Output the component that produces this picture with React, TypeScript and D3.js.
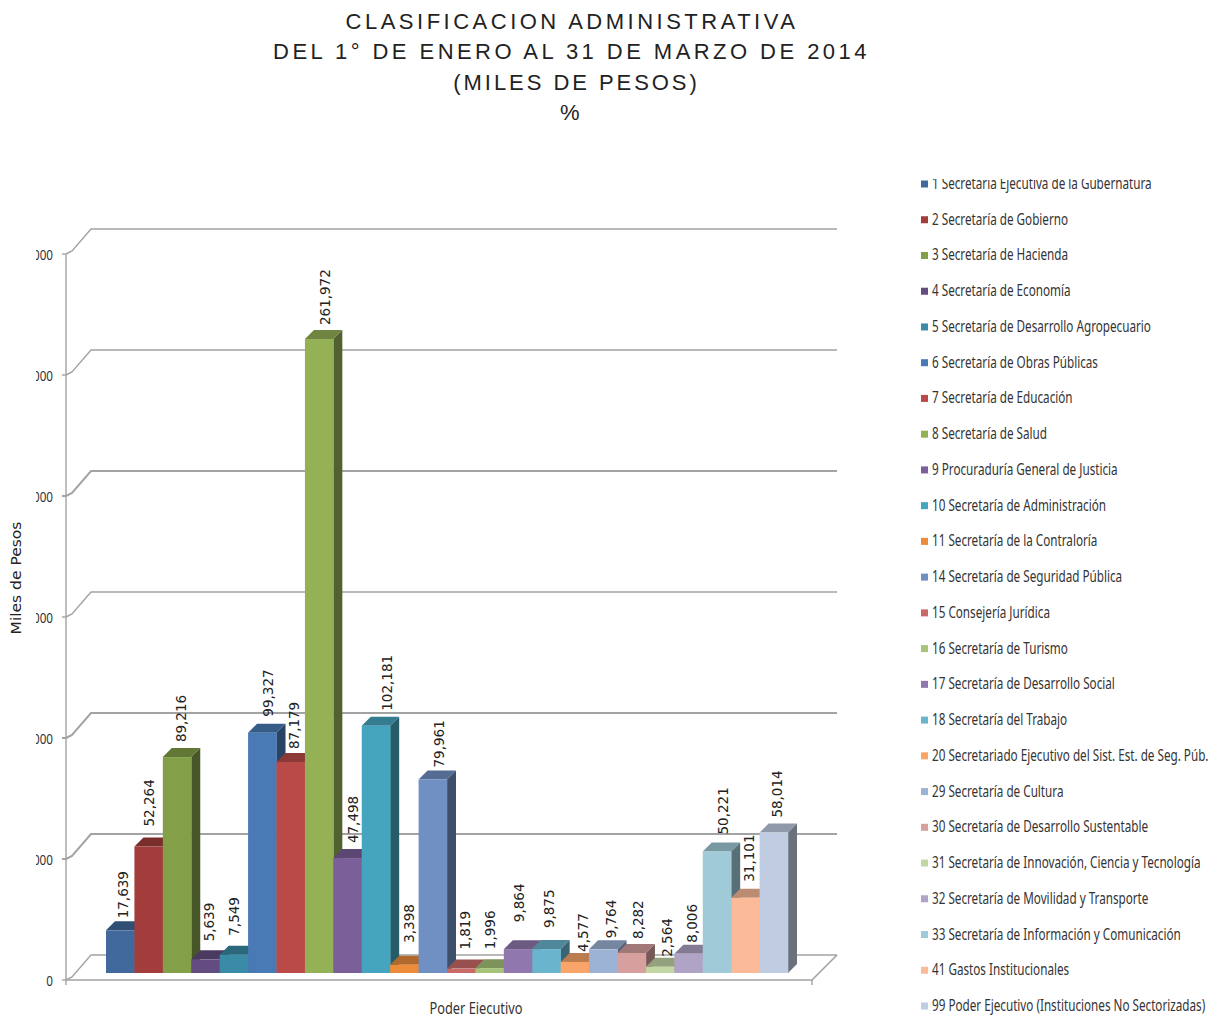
import React from 'react';
import * as d3 from 'd3';

const titleLines = [
  'CLASIFICACION ADMINISTRATIVA',
  'DEL 1° DE ENERO AL 31 DE MARZO DE 2014',
  '(MILES DE PESOS)',
  '%',
];

const categories = [
  '1 Secretaría Ejecutiva de la Gubernatura',
  '2 Secretaría de Gobierno',
  '3 Secretaría de Hacienda',
  '4 Secretaría de Economía',
  '5 Secretaría de Desarrollo Agropecuario',
  '6 Secretaría de Obras Públicas',
  '7 Secretaría de Educación',
  '8 Secretaría de Salud',
  '9 Procuraduría General de Justicia',
  '10 Secretaría de Administración',
  '11 Secretaría de la Contraloría',
  '14 Secretaría de Seguridad Pública',
  '15 Consejería Jurídica',
  '16 Secretaría de Turismo',
  '17 Secretaría de Desarrollo Social',
  '18 Secretaría del Trabajo',
  '20 Secretariado Ejecutivo del Sist. Est. de Seg. Púb.',
  '29 Secretaría de Cultura',
  '30 Secretaría de Desarrollo Sustentable',
  '31 Secretaría de Innovación, Ciencia y Tecnología',
  '32 Secretaría de Movilidad y Transporte',
  '33 Secretaría de Información y Comunicación',
  '41 Gastos Institucionales',
  '99 Poder Ejecutivo (Instituciones No Sectorizadas)',
];

const values = [
  17639, 52264, 89216, 5639, 7549, 99327, 87179, 261972, 47498, 102181, 3398, 79961,
  1819, 1996, 9864, 9875, 4577, 9764, 8282, 2564, 8006, 50221, 31101, 58014,
];

const colors = [
  '#41699c', '#a33d3b', '#839f47', '#634c80', '#3a8ba5', '#4a7ab5',
  '#b94a48', '#94b156', '#7b5f99', '#45a5bf', '#ec8c3b', '#7090c4',
  '#c96a68', '#a8c47a', '#9078ae', '#6bb4ce', '#f9a56a', '#9cb3d6',
  '#d5a09e', '#c5d6a5', '#afa4c5', '#a0cad8', '#fbbb98', '#c0cce2',
];

const yTicks = [0, 50000, 100000, 150000, 200000, 250000, 300000];

// title lines are not quite centred or evenly spaced in the original
const titleCentre = [572, 571.5, 576.5, 571.5];
const titleSpacing = [3.5, 3.45, 2.95, 3.45];

// hand placed data labels, like in the original sheet (px off the default spot)
const labelShiftX = [3, 0, 4, 4, 0, 6, 3, 6, 5, 11, 5, 6, 4, 0, 1, 3, 8, 8, 6, 7, 3, 6, 4, 3];
const labelGap = [12, 20, 15, 18, 19, 16, 13, 14, 15, 15, 22, 12, 19, 19, 27, 21, 10, 11, 14, 10, 11, 17, 16, 15];

const narrowFont = '"Noto Sans", sans-serif';

const App = () => {
  const y = d3.scaleLinear().domain([0, 300000]).range([0, 726]);
  const x = d3.scaleBand().domain(categories).range([106, 788]);
  const legendY = d3.scalePoint().domain(categories).range([184, 1006]);

  const frontBase = 980;
  const backBase = 955;
  const floorBase = 973;
  const depthX = 9;
  const depthY = 9;
  const bw = x.bandwidth();

  const shade = (c: string, k: number) => {
    const r = d3.rgb(c);
    return d3.rgb(r.r * k, r.g * k, r.b * k).formatHex();
  };

  return (
    <svg width={1219} height={1020} style={{ position: 'absolute', left: 0, top: 0, background: '#fff' }}>
      <defs>
        <clipPath id="tickClip"><rect x={36} y={200} width={40} height={800} /></clipPath>
        <clipPath id="legendClip"><rect x={900} y={179} width={319} height={841} /></clipPath>
        <clipPath id="bottomClip"><rect x={400} y={990} width={200} height={24} /></clipPath>
      </defs>

      {titleLines.map((t, i) => (
        <text key={t} x={titleCentre[i]} y={29 + i * 30.4} textAnchor="middle" fontFamily="'Liberation Sans', Arial, sans-serif"
          fontSize={22} letterSpacing={titleSpacing[i]} fill="#222">{t}</text>
      ))}

      {/* walls */}
      {yTicks.map((t) => (
        <g key={t} fill="none" stroke="#a3a3a3" strokeWidth={t === 200000 || t === 50000 || t === 100000 ? 2 : 1.4}>
          <path d={`M66,${frontBase - y(t)} L72,${frontBase - y(t) - 3} L91,${backBase - y(t)} H837`} />
          <line x1={62} x2={66} y1={frontBase - y(t)} y2={frontBase - y(t)} />
        </g>
      ))}
      <g stroke="#a3a3a3" fill="none">
        <line x1={66} x2={66} y1={frontBase - y(300000)} y2={985} strokeWidth={1.4} />
        <path d={`M66,${frontBase} H812 L837,${backBase}`} strokeWidth={1.6} />
        <line x1={812} x2={812} y1={frontBase} y2={985} strokeWidth={1.4} />
      </g>

      {/* axis text, cut on the left in the reference */}
      <g clipPath="url(#tickClip)">
        {yTicks.map((t) => (
          <text key={t} transform={`translate(53,${frontBase - y(t) + 6}) scale(0.78,1)`} textAnchor="end"
            fontFamily={narrowFont} fontSize={15} fill="#333">
            {d3.format(',')(t)}
          </text>
        ))}
      </g>
      <text transform="translate(21,578) rotate(-90) scale(1.15,1)" textAnchor="middle" fontFamily="'DejaVu Sans', sans-serif"
        fontSize={13.5} fill="#222">Miles de Pesos</text>
      <g clipPath="url(#bottomClip)">
        <text transform="translate(476,1014) scale(0.8,1)" textAnchor="middle" fontFamily={narrowFont} fontSize={16} fill="#333">
          Poder Ejecutivo
        </text>
      </g>

      {/* bars, left to right so each one covers its neighbour's side */}
      {categories.map((c, i) => {
        const bx = x(c) as number;
        const top = floorBase - y(values[i]);
        return (
          <g key={c}>
            <path fill={shade(colors[i], 0.55)}
              d={`M${bx + bw},${top} l${depthX},${-depthY} V${floorBase - depthY} l${-depthX},${depthY} Z`} />
            <path fill={shade(colors[i], 0.75)}
              d={`M${bx},${top} l${depthX},${-depthY} h${bw} l${-depthX},${depthY} Z`} />
            <rect x={bx} y={top} width={bw + 0.3} height={y(values[i])} fill={colors[i]} />
          </g>
        );
      })}

      {/* data labels */}
      {categories.map((c, i) => (
        <text key={c}
          transform={`translate(${(x(c) as number) + bw / 2 + labelShiftX[i] + 5},${floorBase - y(values[i]) - labelGap[i]}) rotate(-90)`}
          fontFamily="'DejaVu Sans', sans-serif" fontSize={13.5} fill="#222">
          {d3.format(',')(values[i])}
        </text>
      ))}

      {/* legend */}
      <g clipPath="url(#legendClip)">
        {categories.map((c, i) => (
          <g key={c} transform={`translate(0,${legendY(c)})`}>
            <rect x={921} y={-3.5} width={7} height={7} fill={colors[i]} />
            <text transform="translate(932,5) scale(0.78,1.05)" fontFamily={narrowFont} fontSize={15} fill="#333">{c}</text>
          </g>
        ))}
      </g>
    </svg>
  );
};

export default App;
